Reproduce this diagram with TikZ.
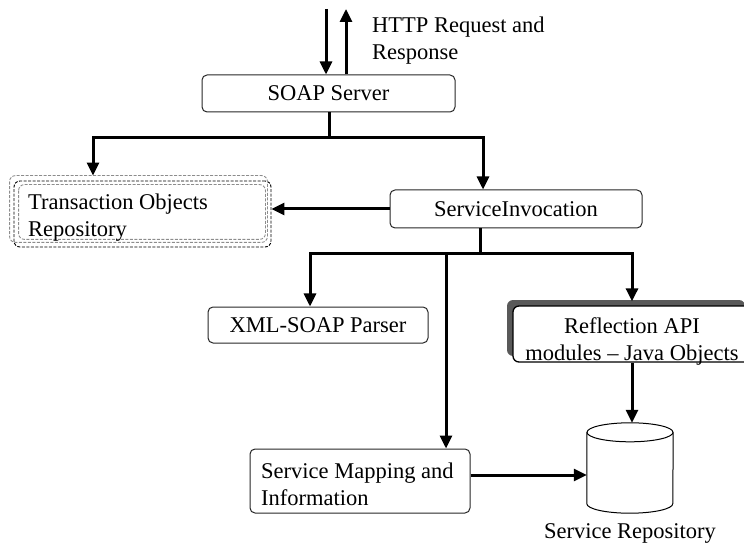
\documentclass[tikz,border=0pt]{standalone}
\usepackage{fontspec}
\setmainfont{Liberation Serif}
\usetikzlibrary{arrows.meta}
\tikzset{
  box/.style={draw=black!85, line width=1pt, rounded corners=5pt, inner sep=0pt},
  ln/.style={line width=3pt},
  arr/.style={line width=3pt, -{Triangle[length=13pt,width=12pt]}},
  bdash/.style={draw=black, line width=0.9pt, dash pattern=on 3pt off 1.5pt, rounded corners=6pt},
  gdash/.style={draw=black!45, line width=0.9pt, dash pattern=on 3pt off 1.5pt, rounded corners=6pt},
  cyl/.style={draw=black, line width=1pt}
}
\begin{document}
\begin{tikzpicture}[x=1pt,y=-1pt,font=\fontsize{22.5}{27}\selectfont]
\useasboundingbox (0,0) rectangle (744,545);

% nodes
\node[box, minimum width=253pt, minimum height=37pt] (soap) at (328.5,93.5) {SOAP Server};
\node[anchor=west, align=left, inner sep=0pt] (http) at (372,41) {HTTP Request and\\Response};

\node[bdash, minimum width=257pt, minimum height=66pt] (trans) at (142.5,214) {};
\draw[gdash] ([xshift=-4pt,yshift=5pt]trans.north west) rectangle ([xshift=-4pt,yshift=5pt]trans.south east);
\draw[gdash] ([xshift=5pt,yshift=-4pt]trans.north west) rectangle ([xshift=-6pt,yshift=8pt]trans.south east);
\node[anchor=west, align=left, inner sep=0pt] (transtext) at (28,218) {Transaction Objects\\Repository};

\node[box, minimum width=252pt, minimum height=38pt] (si) at (516,209) {ServiceInvocation};
\node[box, minimum width=220pt, minimum height=36pt] (xml) at (318,325) {XML-SOAP Parser};

\fill[black!65, rounded corners=6pt] (507,300) rectangle (745,356);
\node[draw=black, line width=1.3pt, fill=white, rounded corners=6pt, minimum width=238pt, minimum height=56pt] (refl) at (632,334) {};
\node[align=center, inner sep=0pt] (refltext) at (632,341.5) {Reflection API\\modules – Java Objects};

\node[box, minimum width=220pt, minimum height=64pt] (smap) at (360,481) {};
\node[anchor=west, align=left, inner sep=0pt] (smaptext) at (261,484) {Service Mapping and\\Information};

\node[minimum width=86pt, minimum height=90pt, inner sep=0pt] (repo) at (630,468) {};
\draw[cyl, fill=white] ([yshift=-9.5pt]repo.north west) -- ([yshift=9.5pt]repo.south west)
  arc[start angle=180, end angle=360, x radius=43pt, y radius=9.5pt] -- ([yshift=-9.5pt]repo.north east);
\draw[cyl] ([yshift=-9.5pt]repo.north) ellipse [x radius=43pt, y radius=9.5pt];
\node[inner sep=0pt] (srtext) at (630,533) {Service Repository};

% connectors
\coordinate (in) at (326,9);
\coordinate (out) at (346,9);
\draw[arr] (in) -- (in |- soap.north);
\draw[arr] (out |- soap.north) -- (out);

\coordinate (b1) at (329,138);
\coordinate (ttop) at ([yshift=5pt]trans.north);
\coordinate (b1l) at (93,138);
\coordinate (b1r) at (483,138);
\draw[ln] (soap.south -| b1) -- (b1);
\draw[arr] (b1) -- (b1l) -- (b1l |- ttop);
\draw[arr] (b1) -- (b1r) -- (b1r |- si.north);

\draw[arr] (si.west) -- (si.west -| trans.east);

\coordinate (b2) at (480,254);
\coordinate (b2l) at (310,254);
\coordinate (b2m) at (446,254);
\coordinate (b2r) at (632,254);
\draw[ln] (si.south -| b2) -- (b2);
\draw[arr] (b2) -- (b2l) -- (b2l |- xml.north);
\draw[arr] (b2) -- (b2r) -- ([yshift=4pt]b2r |- refl.north);
\draw[arr] (b2m) -- (b2m |- smap.north);

\draw[arr] (refl.south) -- (refl.south |- repo.north);
\coordinate (sm) at ([yshift=6pt]smap.east);
\draw[arr] (sm) -- (sm -| repo.west);
\end{tikzpicture}
\end{document}
